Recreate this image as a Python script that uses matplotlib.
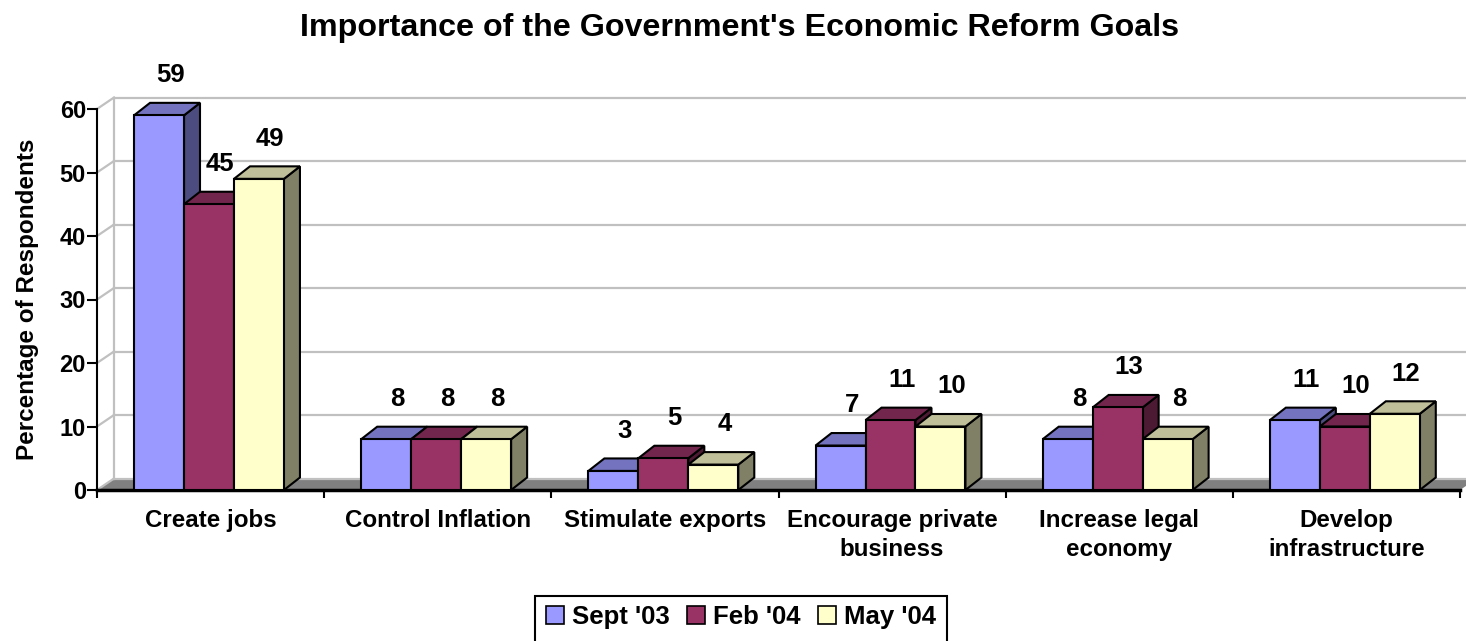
"""Clustered 3-D style bar chart of reform-goal importance by survey wave."""

import matplotlib

matplotlib.use("Agg")

import matplotlib.pyplot as plt
from matplotlib.patches import Patch, Polygon, Rectangle

plt.rcParams["font.family"] = ["Liberation Sans", "DejaVu Sans"]
plt.rcParams["font.weight"] = "bold"

categories = [
    "Create jobs",
    "Control Inflation",
    "Stimulate exports",
    "Encourage private\nbusiness",
    "Increase legal\neconomy",
    "Develop\ninfrastructure",
]
waves = ["Sept '03", "Feb '04", "May '04"]
sept_03 = [59, 8, 3, 7, 8, 11]
feb_04 = [45, 8, 5, 11, 13, 10]
may_04 = [49, 8, 4, 10, 8, 12]
y_ticks = [0, 10, 20, 30, 40, 50, 60]

# front, top and side shades for each wave
face_colors = [
    ("#9999FF", "#7373C0", "#4C4C80"),
    ("#993366", "#73264D", "#4D1A33"),
    ("#FFFFCC", "#BFBF99", "#808066"),
]

W, H = 1466, 641
fig = plt.figure(figsize=(W / 100, H / 100), dpi=100)
ax = fig.add_axes([97 / W, 151 / H, 1363 / W, 381 / H])
n_cat = len(categories)
ax.set_xlim(0, n_cat)
ax.set_ylim(0, 60)

# pixel -> data conversion for the depth offsets
px_x = ax.bbox.width / n_cat
px_y = ax.bbox.height / 60
wall_dx, wall_dy = 17 / px_x, 11.5 / px_y
bar_dx, bar_dy = 16 / px_x, 12.5 / px_y

grid_color = "#C0C0C0"

# floor
ax.add_patch(Polygon([(0, 0), (n_cat, 0), (n_cat + wall_dx, wall_dy), (wall_dx, wall_dy)],
                     closed=True, facecolor="#808080", edgecolor="none",
                     zorder=1, clip_on=False))

# back wall gridlines and side wall diagonals
for t in y_ticks:
    ax.plot([wall_dx, n_cat + wall_dx + 1], [t + wall_dy, t + wall_dy],
            color=grid_color, lw=1.6, zorder=1.5, clip_on=False)
    ax.plot([0, wall_dx], [t, t + wall_dy], color=grid_color, lw=1.6,
            zorder=1.5, clip_on=False)
ax.plot([wall_dx, wall_dx], [wall_dy, 60 + wall_dy], color=grid_color,
        lw=1.6, zorder=1.5, clip_on=False)

bar_w = 0.22
group_left = 0.163
series = [sept_03, feb_04, may_04]
edge = dict(edgecolor="black", linewidth=1.5, joinstyle="miter", clip_on=False)

for i in range(n_cat):
    for j, values in enumerate(series):
        v = values[i]
        x0 = i + group_left + j * bar_w
        x1 = x0 + bar_w
        front, top, side = face_colors[j]
        z = 3 + j
        ax.add_patch(Polygon([(x1, 0), (x1 + bar_dx, bar_dy), (x1 + bar_dx, v + bar_dy), (x1, v)],
                             closed=True, facecolor=side, zorder=z, **edge))
        ax.add_patch(Polygon([(x0, v), (x1, v), (x1 + bar_dx, v + bar_dy), (x0 + bar_dx, v + bar_dy)],
                             closed=True, facecolor=top, zorder=z, **edge))
        ax.add_patch(Rectangle((x0, 0), bar_w, v, facecolor=front, zorder=z, **edge))
        ax.annotate(str(v), xy=(x0 + bar_w / 2 + bar_dx * 0.7, v + bar_dy),
                    xytext=(0, 20), textcoords="offset points",
                    ha="center", va="center", fontsize=18.5, fontweight="bold",
                    zorder=10, annotation_clip=False)

# axes styling
for name in ("top", "right"):
    ax.spines[name].set_visible(False)
ax.spines["left"].set_linewidth(1.5)
ax.spines["bottom"].set_linewidth(2.5)
ax.spines["bottom"].set_zorder(2)
ax.set_yticks(y_ticks)
ax.tick_params(axis="y", direction="out", length=7, width=1.5, pad=1,
               labelsize=17)
ax.set_xticks(range(n_cat + 1))
ax.set_xticklabels([])
ax.tick_params(axis="x", which="major", direction="out", length=6, width=1.5)
ax.set_xticks([i + 0.5 for i in range(n_cat)], minor=True)
ax.set_xticklabels(categories, minor=True, fontsize=17.4, fontweight="bold",
                   linespacing=1.3)
ax.tick_params(axis="x", which="minor", length=0, pad=14)
for lab in ax.get_yticklabels():
    lab.set_fontweight("bold")
ax.set_ylabel("Percentage of Respondents", fontsize=17.5, fontweight="bold",
              labelpad=15)
ax.patch.set_visible(False)

fig.text(740 / W, 1 - 28 / H, "Importance of the Government's Economic Reform Goals",
         ha="center", va="center", fontsize=23.2, fontweight="bold")

# legend with a frame that runs off the bottom edge
fig.patches.append(Rectangle((535 / W, -0.05), (947 - 535) / W, 0.05 + (641 - 596) / H,
                             transform=fig.transFigure, facecolor="white",
                             edgecolor="black", linewidth=1.5))
handles = [Patch(facecolor=c[0], edgecolor="black", linewidth=1.2) for c in face_colors]
fig.legend(handles, waves, loc="center", bbox_to_anchor=(741 / W, 1 - 617 / H),
           ncol=3, frameon=False, prop=dict(size=18.5, weight="bold"),
           handlelength=0.7, handleheight=0.7, handletextpad=0.3,
           columnspacing=0.7, borderpad=0)

fig.savefig("out.png", dpi=100)
